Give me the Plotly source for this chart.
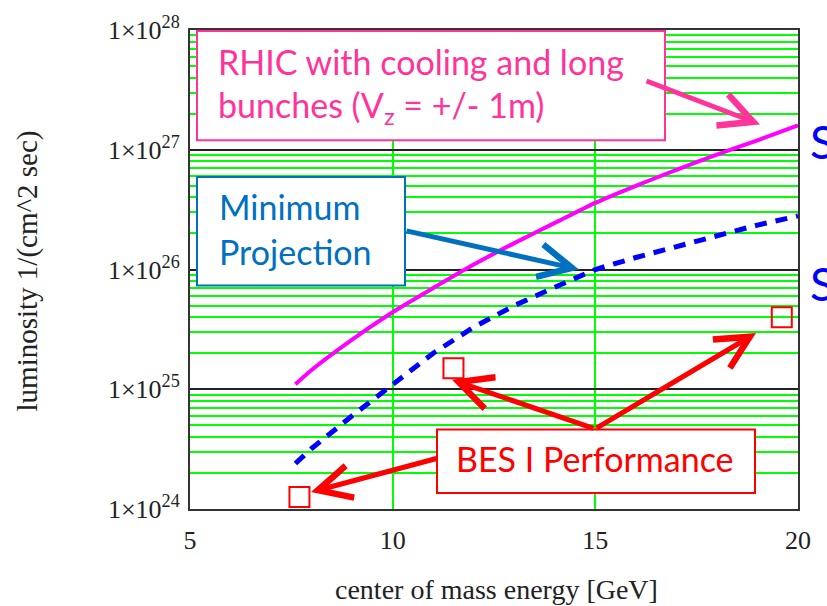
import plotly.graph_objects as go

# ---------------- data ----------------
energy_rhic = [7.6, 8, 9, 10, 11, 12, 13, 14, 15, 16, 17, 18, 19, 20]
lumi_rhic = [1.1e25, 1.45e25, 2.6e25, 4.4e25, 7.0e25, 1.1e26, 1.66e26, 2.45e26,
             3.6e26, 5.0e26, 6.8e26, 9.1e26, 1.2e27, 1.6e27]

energy_min = [7.6, 8, 9, 10, 11, 12, 13, 14, 15, 16, 17, 18, 19, 20]
lumi_min = [2.4e24, 3.2e24, 6.0e24, 1.1e25, 2.0e25, 3.3e25, 5.0e25, 7.1e25,
            1.0e26, 1.26e26, 1.55e26, 1.9e26, 2.35e26, 2.8e26]

energy_bes = [7.7, 11.5, 19.6]
lumi_bes = [1.26e24, 1.5e25, 4.0e25]

x_ticks = [5, 10, 15, 20]
y_exponents = [24, 25, 26, 27, 28]
y_ticks = [10.0 ** e for e in y_exponents]
y_ticktext = ["1×10<sup>%d</sup>" % e for e in y_exponents]
y_minor = [m * 10.0 ** e for e in y_exponents[:-1] for m in range(2, 10)]

# ---------------- layout helpers ----------------
W, H = 827, 606
L, R, T, B = 190, 29, 27, 97
PW, PH = W - L - R, H - T - B


def px(xp):
    return (xp - L) / PW


def py(yp):
    return (H - B - yp) / PH


SERIF = "Liberation Serif"
SANS = "Lato"
PINK = "#FF3399"
BLUE = "#0070C0"
RED = "#FF0000"

fig = go.Figure()
fig.add_trace(go.Scatter(x=energy_rhic, y=lumi_rhic, mode="lines",
                         line=dict(color="#FF00FF", width=4, shape="spline",
                                   smoothing=0.6), showlegend=False))
fig.add_trace(go.Scatter(x=energy_min, y=lumi_min, mode="lines",
                         line=dict(color="#0000FF", width=5, dash="12px,9px"),
                         showlegend=False))
fig.add_trace(go.Scatter(x=energy_bes, y=lumi_bes, mode="markers",
                         marker=dict(symbol="square-open", size=20, color=RED,
                                     line=dict(color=RED, width=2)),
                         showlegend=False))

shapes = []
annotations = []


def box(x0, y0, x1, y1, color):
    shapes.append(dict(type="rect", xref="paper", yref="paper",
                       x0=px(x0), x1=px(x1), y0=py(y1), y1=py(y0),
                       line=dict(color=color, width=2), fillcolor="white",
                       layer="above"))


def text(xp, yp, s, color, size=34, xanchor="left"):
    annotations.append(dict(xref="paper", yref="paper", x=px(xp), y=py(yp),
                            text=s, showarrow=False, xanchor=xanchor,
                            yanchor="middle",
                            font=dict(family=SANS, size=size, color=color)))


def arrow(x_tail, y_tail, x_head, y_head, color, width=5):
    annotations.append(dict(xref="paper", yref="paper", x=px(x_head), y=py(y_head),
                            ax=x_tail - x_head, ay=y_tail - y_head, text="",
                            showarrow=True, arrowhead=5, arrowsize=1.3,
                            arrowwidth=width, arrowcolor=color))


# boxes
box(197, 28, 665, 138, PINK)
box(197, 175, 405, 284, BLUE)
box(437, 429, 755, 493, RED)

# arrows
arrow(645, 78, 760, 122, PINK)
arrow(405, 229, 579, 268, BLUE)
arrow(438, 458, 311, 492, RED)
arrow(595, 428, 452, 379, RED)
arrow(595, 428, 756, 332, RED)

# box texts
text(216, 59, "RHIC with cooling and long", PINK)
text(216, 104, "bunches (V<sub>z</sub> = +/- 1m)", PINK)
text(217, 205, "Minimum", BLUE)
text(217, 250, "Projection", BLUE)
text(595, 458, "BES I Performance", RED, xanchor="center")

# clipped letters at the right edge
text(808, 139, "S", "#0000FF", size=46)
text(808, 282, "S", "#0000FF", size=46)

# axis titles
annotations.append(dict(xref="paper", yref="paper", x=px(27), y=py(270),
                        text="luminosity 1/(cm^2 sec)", showarrow=False,
                        textangle=-90, xanchor="center", yanchor="middle",
                        font=dict(family=SERIF, size=29, color="#222222")))
annotations.append(dict(xref="paper", yref="paper", x=px(496), y=py(590),
                        text="center of mass energy [GeV]", showarrow=False,
                        xanchor="center", yanchor="middle",
                        font=dict(family=SERIF, size=28, color="#222222")))

fig.update_layout(
    width=W, height=H,
    margin=dict(l=L, r=R, t=T, b=B),
    paper_bgcolor="white", plot_bgcolor="white",
    shapes=shapes, annotations=annotations,
    xaxis=dict(range=[5, 20], tickvals=x_ticks, ticktext=[str(v) for v in x_ticks],
               showgrid=True, gridcolor="#00FF00", gridwidth=2,
               showline=True, mirror=True, linecolor="#333333", linewidth=2,
               ticks="", ticklabelstandoff=7, zeroline=False,
               tickfont=dict(family=SERIF, size=26, color="#222222")),
    yaxis=dict(type="log", range=[24, 28], tickvals=y_ticks, ticktext=y_ticktext,
               showgrid=True, gridcolor="#222222", gridwidth=2,
               showline=True, mirror=True, linecolor="#333333", linewidth=2,
               ticks="", ticklabelstandoff=3, zeroline=False,
               tickfont=dict(family=SERIF, size=26, color="#222222"),
               minor=dict(tickvals=y_minor, showgrid=True, gridcolor="#00FF00",
                          gridwidth=2, ticks="")),
)

fig.write_html("out.html")
